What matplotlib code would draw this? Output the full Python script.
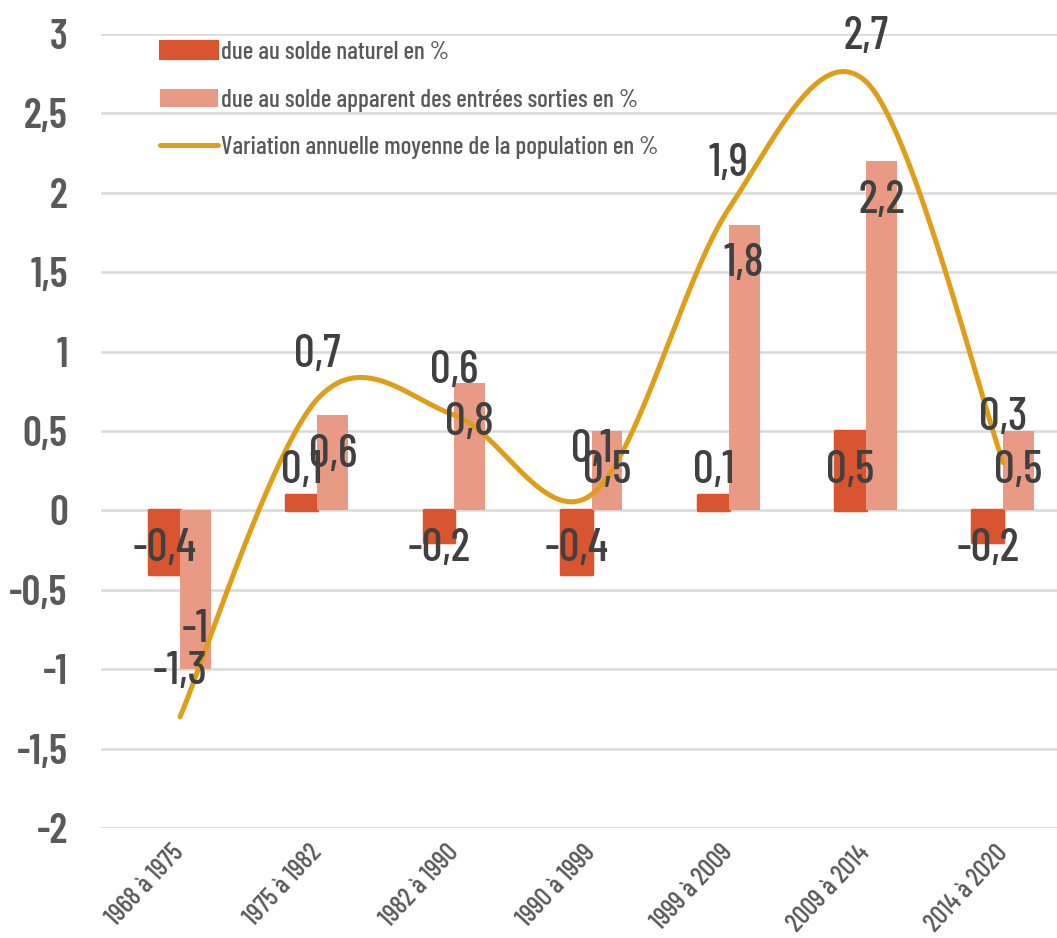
import numpy as np
import matplotlib
matplotlib.use("Agg")
import matplotlib.pyplot as plt
import matplotlib.transforms as mtransforms
from matplotlib.patches import Patch
from matplotlib.lines import Line2D

# ---------------- data ----------------
periods = ["1968 à 1975", "1975 à 1982", "1982 à 1990", "1990 à 1999",
           "1999 à 2009", "2009 à 2014", "2014 à 2020"]
solde_naturel = [-0.4, 0.1, -0.2, -0.4, 0.1, 0.5, -0.2]
solde_apparent = [-1.0, 0.6, 0.8, 0.5, 1.8, 2.2, 0.5]
variation = [-1.3, 0.7, 0.6, 0.1, 1.9, 2.7, 0.3]
yticks = [3, 2.5, 2, 1.5, 1, 0.5, 0, -0.5, -1, -1.5, -2]
legend_labels = ["due au solde naturel en %",
                 "due au solde apparent des entrées sorties en %",
                 "Variation annuelle moyenne de la population en %"]

FONT = ["Barlow Condensed", "Roboto Condensed", "DejaVu Sans"]
plt.rcParams["font.family"] = FONT

# ---------------- colors ----------------
c_nat = "#D9552F"
c_app = "#E99A85"
c_line = "#DE9E1A"
c_grid = "#D9D9D9"
c_tick = "#595959"
c_lab = "#404040"

W, H = 1057, 938
fig = plt.figure(figsize=(W / 100, H / 100), dpi=100)
ax = fig.add_axes([101 / W, 1 - 828 / H, 956 / W, 794 / H])

x = np.arange(len(periods))
bw = 0.225
ax.bar(x - bw / 2, solde_naturel, bw, color=c_nat, edgecolor=c_nat,
       linewidth=2.5, joinstyle="round", zorder=2)
ax.bar(x + bw / 2, solde_apparent, bw, color=c_app, linewidth=0, zorder=3)

# Excel-like smoothed line (cubic Bezier, Catmull-Rom control points)
yv = np.asarray(variation, dtype=float)
xv = x.astype(float)
px = np.concatenate([[xv[0]], xv, [xv[-1]]])
py = np.concatenate([[yv[0]], yv, [yv[-1]]])
cx, cy = [], []
t = np.linspace(0, 1, 60)
for i in range(len(xv) - 1):
    p0 = np.array([px[i + 1], py[i + 1]])
    p3 = np.array([px[i + 2], py[i + 2]])
    p1 = p0 + (np.array([px[i + 2], py[i + 2]]) - np.array([px[i], py[i]])) / 6
    p2 = p3 - (np.array([px[i + 3], py[i + 3]]) - np.array([px[i + 1], py[i + 1]])) / 6
    b = ((1 - t) ** 3)[:, None] * p0 + (3 * (1 - t) ** 2 * t)[:, None] * p1 \
        + (3 * (1 - t) * t ** 2)[:, None] * p2 + (t ** 3)[:, None] * p3
    cx.extend(b[:, 0]); cy.extend(b[:, 1])
ax.plot(cx, cy, color=c_line, lw=3.6, solid_capstyle="round", zorder=4)

def fmt(v):
    return ("%g" % v).replace(".", ",")

LS = 33
LW = "medium"
for xi, v in zip(x, solde_naturel):
    ax.text(xi - bw / 2, np.sign(v) * 0.245, fmt(v), ha="center", va="center",
            fontsize=LS, fontweight=LW, color=c_lab, zorder=6)
for xi, v in zip(x, solde_apparent):
    ax.text(xi + bw / 2, v - np.sign(v) * 0.25, fmt(v), ha="center", va="center",
            fontsize=LS, fontweight=LW, color=c_lab, zorder=6)
for xi, v in zip(x, variation):
    ax.annotate(fmt(v), (xi, v), xytext=(0, 32), textcoords="offset points",
                ha="center", va="center", fontsize=LS, fontweight=LW,
                color=c_lab, zorder=6)

ax.set_xlim(-0.576, 6.392)
ax.set_ylim(-2, 3)
ax.set_yticks(yticks)
ax.set_yticklabels([fmt(v) for v in yticks], fontsize=30, fontweight="semibold",
                   color=c_tick)
ax.set_xticks(x)
ax.set_xticklabels(periods, fontsize=19, fontweight="medium", color=c_tick,
                   rotation=47, rotation_mode="anchor", ha="right", va="center")
shift = mtransforms.ScaledTranslation(8 / 100, 0, fig.dpi_scale_trans)
for tl in ax.get_xticklabels():
    tl.set_transform(tl.get_transform() + shift)
ax.tick_params(axis="both", length=0)
ax.tick_params(axis="y", pad=24)
ax.tick_params(axis="x", pad=15)
ax.grid(axis="y", color=c_grid, lw=1.8, zorder=0)
ax.set_axisbelow(True)
for s in ax.spines.values():
    s.set_visible(False)

handles = [Patch(facecolor=c_nat, edgecolor=c_nat, linewidth=1.5, joinstyle="round"),
           Patch(facecolor=c_app, edgecolor="none"),
           Line2D([0], [0], color=c_line, lw=3.6, solid_capstyle="round")]
leg = ax.legend(handles, legend_labels, loc="upper left",
                bbox_to_anchor=(160 / W, 1 - 41 / H), bbox_transform=fig.transFigure,
                frameon=False, prop={"size": 18, "weight": "medium"}, labelcolor=c_tick,
                handlelength=2.3, handleheight=0.75, handletextpad=0.15,
                labelspacing=0.98, borderaxespad=0, borderpad=0)
leg.set_zorder(7)

fig.savefig("out.png", dpi=100)
